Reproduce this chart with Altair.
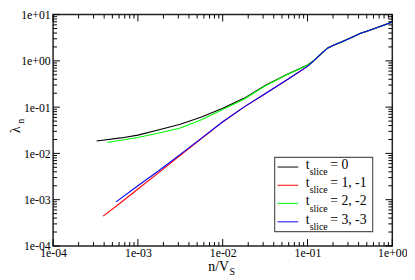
import altair as alt
import pandas as pd

# ---- data ----
series_names = ["t0", "t1", "t2", "t3"]
series_colors = ["#000000", "#ff0000", "#00ff00", "#0000ff"]

tail_x = [0.1445, 0.1738, 0.1995, 0.2512, 0.3162, 0.4169, 0.5623, 0.7586, 1.0]
tail_y = [1.413, 1.905, 2.138, 2.570, 3.090, 3.890, 4.677, 5.754, 6.918]

black_x = [3.26e-4, 6.31e-4, 1e-3, 1.778e-3, 3.162e-3, 5.623e-3, 0.01, 0.01778, 0.03162, 0.05623, 0.1, 0.1202]
black_y = [0.01862, 0.02163, 0.02483, 0.03236, 0.04266, 0.06095, 0.09441, 0.1549, 0.2951, 0.5012, 0.8128, 1.035]

green_x = [4.365e-4, 6.31e-4, 1e-3, 1.778e-3, 3.162e-3, 5.623e-3, 0.01, 0.01778, 0.03162, 0.05623, 0.1, 0.1202]
green_y = [0.01726, 0.01928, 0.02213, 0.02754, 0.03548, 0.05370, 0.08913, 0.1479, 0.2851, 0.4955, 0.8035, 1.035]

red_x = [3.89e-4, 6.31e-4, 1e-3, 1.778e-3, 3.162e-3, 5.623e-3, 0.01, 0.01778, 0.03162, 0.05623, 0.1, 0.1202]
red_y = [4.406e-4, 8.71e-4, 1.698e-3, 3.890e-3, 9.12e-3, 0.02089, 0.04786, 0.1, 0.1950, 0.3802, 0.7586, 1.02]

blue_x = [5.534e-4, 1e-3, 1.778e-3, 3.162e-3, 5.623e-3, 0.01, 0.01778, 0.03162, 0.05623, 0.1, 0.1202]
blue_y = [8.97e-4, 1.995e-3, 4.266e-3, 9.55e-3, 0.02138, 0.04842, 0.1, 0.1950, 0.3802, 0.7586, 1.02]

legend_suffix = ["= 0", "= 1, -1", "= 2, -2", "= 3, -3"]

x_major = [1e-4, 1e-3, 1e-2, 1e-1, 1.0]
y_major = [1e-4, 1e-3, 1e-2, 1e-1, 1.0, 10.0]
x_minor = [k * 10.0 ** d for d in range(-4, 0) for k in range(2, 10)]
y_minor = [k * 10.0 ** d for d in range(-4, 1) for k in range(2, 10)]

# ---- build table ----
rows = []
for name, xs, ys in [("t0", black_x, black_y), ("t1", red_x, red_y),
                     ("t2", green_x, green_y), ("t3", blue_x, blue_y)]:
    for xv, yv in zip(xs + tail_x, ys + tail_y):
        rows.append({"series": name, "x": xv, "y": yv})
df = pd.DataFrame(rows)

W, H = 346, 236
FONT = "Liberation Serif"
xscale = alt.Scale(type="log", domain=[1e-4, 1.0], nice=False)
yscale = alt.Scale(type="log", domain=[1e-4, 10.0], nice=False)
label_expr = ("'1e' + (datum.value < 0.999 ? '-' : '+') + '0' + "
              "abs(round(log(datum.value) / LN10))")

xaxis = alt.Axis(values=x_major, labelExpr=label_expr, title=None,
                 ticks=False, domain=False, grid=False, labelFlush=False,
                 labelPadding=2, labelFont=FONT, labelFontSize=12,
                 labelColor="black")
yaxis = alt.Axis(values=y_major, labelExpr=label_expr, title=None,
                 ticks=False, domain=False, grid=False, labelPadding=3,
                 labelFont=FONT, labelFontSize=12, labelColor="black")

lines = alt.Chart(df).mark_line(strokeWidth=1.1, clip=True).encode(
    x=alt.X("x:Q", scale=xscale, axis=xaxis),
    y=alt.Y("y:Q", scale=yscale, axis=yaxis),
    color=alt.Color("series:N", scale=alt.Scale(domain=series_names, range=series_colors),
                    legend=None),
    detail="series:N",
)

layers = [lines]

# inward ticks on all four sides
def xticks(vals, length):
    d = pd.DataFrame({"x": vals})
    base = alt.Chart(d).mark_rule(color="black", strokeWidth=1)
    enc = dict(x=alt.X("x:Q", scale=xscale, axis=xaxis))
    return [base.encode(y=alt.value(H), y2=alt.value(H - length), **enc),
            base.encode(y=alt.value(0), y2=alt.value(length), **enc)]

def yticks(vals, length):
    d = pd.DataFrame({"y": vals})
    base = alt.Chart(d).mark_rule(color="black", strokeWidth=1)
    enc = dict(y=alt.Y("y:Q", scale=yscale, axis=yaxis))
    return [base.encode(x=alt.value(0), x2=alt.value(length), **enc),
            base.encode(x=alt.value(W), x2=alt.value(W - length), **enc)]

layers += xticks(x_major, 7) + xticks(x_minor, 4)
layers += yticks(y_major, 7) + yticks(y_minor, 4)

# legend box
dummy = pd.DataFrame({"a": [0]})
layers.append(alt.Chart(dummy).mark_rect(fill="white", stroke="#555555", strokeWidth=1.2).encode(
    x=alt.value(226), x2=alt.value(326), y=alt.value(145.7), y2=alt.value(221.4)))

row_y = [155.5, 174.1, 192.6, 211.4]
for i in range(4):
    ry = row_y[i]
    layers.append(alt.Chart(dummy).mark_rule(color=series_colors[i], strokeWidth=1).encode(
        x=alt.value(229), x2=alt.value(250), y=alt.value(ry)))
    layers.append(alt.Chart(dummy).mark_text(text="t", font=FONT, fontSize=14, align="left",
                                             baseline="middle", color="black").encode(
        x=alt.value(257.7), y=alt.value(ry - 2)))
    layers.append(alt.Chart(dummy).mark_text(text="slice", font=FONT, fontSize=10, align="left",
                                             baseline="middle", color="black").encode(
        x=alt.value(261.8), y=alt.value(ry + 5.3)))
    layers.append(alt.Chart(dummy).mark_text(text=legend_suffix[i], font=FONT, fontSize=14,
                                             align="left", baseline="middle", color="black").encode(
        x=alt.value(282.7), y=alt.value(ry - 2)))

# axis titles
layers.append(alt.Chart(dummy).mark_text(text="λ", font=FONT, fontSize=14, angle=270,
                                         align="center", baseline="middle", color="black").encode(
    x=alt.value(-38), y=alt.value(117.5)))
layers.append(alt.Chart(dummy).mark_text(text="n", font=FONT, fontSize=10, angle=270,
                                         align="center", baseline="middle", color="black").encode(
    x=alt.value(-33), y=alt.value(108.8)))
layers.append(alt.Chart(dummy).mark_text(text="n/V", font=FONT, fontSize=14,
                                         align="left", baseline="middle", color="black").encode(
    x=alt.value(158.3), y=alt.value(257.5)))
layers.append(alt.Chart(dummy).mark_text(text="S", font=FONT, fontSize=10,
                                         align="left", baseline="middle", color="black").encode(
    x=alt.value(180), y=alt.value(263)))

chart = alt.layer(*layers).properties(
    width=W, height=H,
    autosize=alt.AutoSizeParams(type="none"),
    padding={"left": 46, "top": 4, "right": 15, "bottom": 32},
).configure_view(stroke="#222222", strokeWidth=1.5)

chart.save("out.html", embed_options={"renderer": "svg", "actions": False})
